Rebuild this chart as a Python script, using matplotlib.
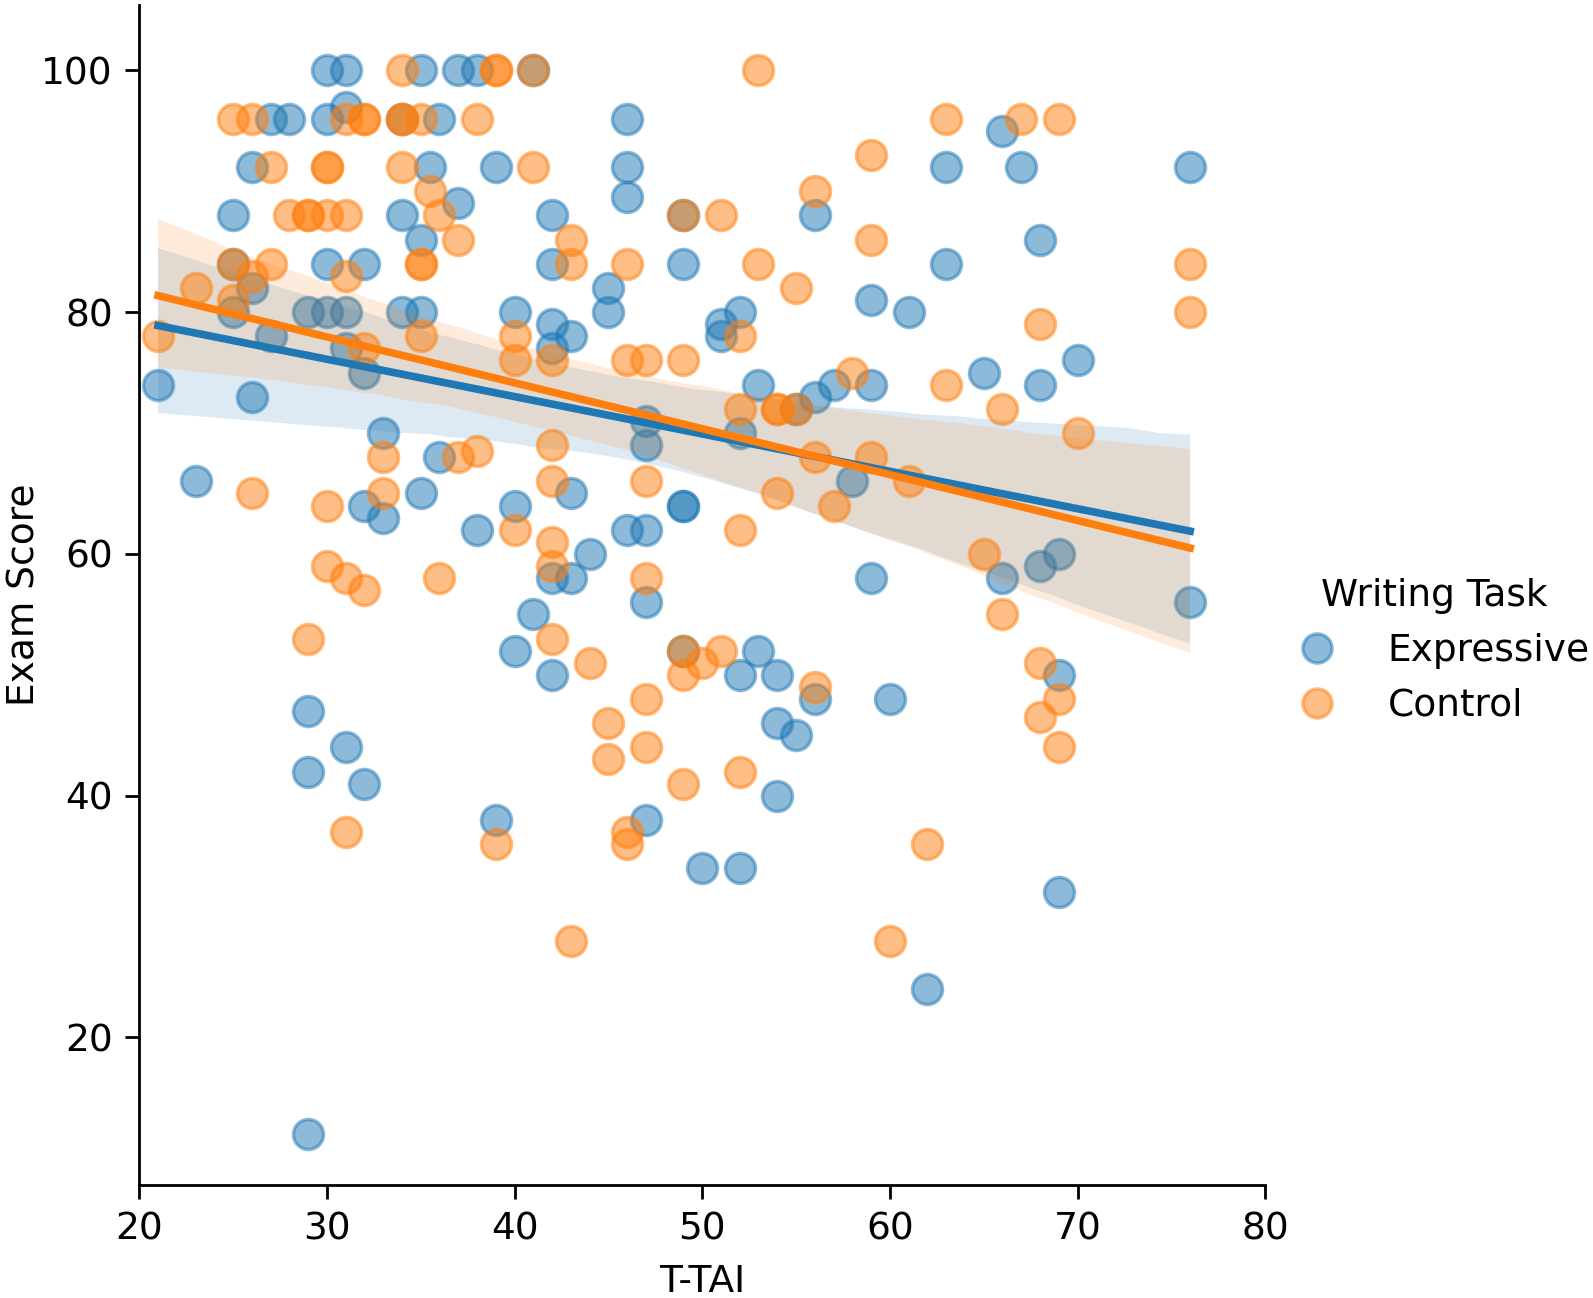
import matplotlib
matplotlib.use("Agg")
import matplotlib.pyplot as plt
import seaborn as sns
import numpy as np
from matplotlib.lines import Line2D

# ---- data ----
expr_x = [30, 31, 35, 37, 38, 41,
          31,
          27, 28, 30, 34, 36, 46,
          66,
          26, 35.5, 39, 46, 63, 67, 76,
          46, 37,
          25, 34, 42, 49, 56,
          35, 68,
          25, 30, 32, 42, 49, 63,
          26, 45, 59,
          25, 29, 30, 31, 34, 35, 40, 45, 52, 61,
          42, 51,
          27, 43, 51,
          31, 42,
          70,
          32, 65,
          21, 53, 57, 59, 68,
          26, 56,
          55,
          47,
          33, 52,
          47, 36,
          23, 58,
          35, 43,
          32, 40, 49, 49,
          33,
          38, 46, 47,
          44, 69, 68,
          42, 43, 59, 66,
          47, 76, 41,
          40, 49, 53,
          42, 52, 54, 69,
          56, 60, 29, 54, 55, 31, 29, 32, 54,
          39, 47, 50, 52, 69, 62, 29]
expr_y = [100, 100, 100, 100, 100, 100,
          97,
          96, 96, 96, 96, 96, 96,
          95,
          92, 92, 92, 92, 92, 92, 92,
          89.5, 89,
          88, 88, 88, 88, 88,
          86, 86,
          84, 84, 84, 84, 84, 84,
          82, 82, 81,
          80, 80, 80, 80, 80, 80, 80, 80, 80, 80,
          79, 79,
          78, 78, 78,
          77, 77,
          76,
          75, 75,
          74, 74, 74, 74, 74,
          73, 73,
          72,
          71,
          70, 70,
          69, 68,
          66, 66,
          65, 65,
          64, 64, 64, 64,
          63,
          62, 62, 62,
          60, 60, 59,
          58, 58, 58, 58,
          56, 56, 55,
          52, 52, 52,
          50, 50, 50, 50,
          48, 48, 47, 46, 45, 44, 42, 41, 40,
          38, 38, 34, 34, 32, 24, 12]

ctrl_x = [34, 39, 39, 41, 53,
          25, 26, 31, 32, 32, 34, 34, 35, 38, 63, 67, 69,
          59,
          27, 30, 30, 34, 41,
          35.5, 56,
          28, 29, 29, 30, 31, 36, 49, 51,
          37, 43, 59,
          25, 27, 35, 35, 43, 46, 53, 76,
          26, 31, 23, 55, 25, 76, 68,
          21, 35, 40, 52,
          32,
          40, 42, 46, 47, 49,
          58, 63,
          52, 54, 54, 55, 66,
          70, 42, 38,
          33, 37, 56, 59,
          42, 47, 61,
          26, 33, 54,
          30, 57,
          40, 52, 42, 65,
          30, 42,
          31, 36, 47, 32, 66,
          29, 42, 49, 51,
          44, 50, 68, 49, 56,
          47, 69, 68, 45, 47, 69, 45, 52, 49,
          31, 46, 39, 46, 62, 43, 60]
ctrl_y = [100, 100, 100, 100, 100,
          96, 96, 96, 96, 96, 96, 96, 96, 96, 96, 96, 96,
          93,
          92, 92, 92, 92, 92,
          90, 90,
          88, 88, 88, 88, 88, 88, 88, 88,
          86, 86, 86,
          84, 84, 84, 84, 84, 84, 84, 84,
          83, 83, 82, 82, 81, 80, 79,
          78, 78, 78, 78,
          77,
          76, 76, 76, 76, 76,
          75, 74,
          72, 72, 72, 72, 72,
          70, 69, 68.5,
          68, 68, 68, 68,
          66, 66, 66,
          65, 65, 65,
          64, 64,
          62, 62, 61, 60,
          59, 59,
          58, 58, 58, 57, 55,
          53, 53, 52, 52,
          51, 51, 51, 50, 49,
          48, 48, 46.5, 46, 44, 44, 43, 42, 41,
          37, 37, 36, 36, 36, 28, 28]

groups = ["Expressive", "Control"]
colors = ["#1f77b4", "#ff7f0e"]

FS = 27

fig = plt.figure(figsize=(15.93, 12.98), dpi=100)
ax = fig.add_axes([0.0874, 0.0871, 0.7068, 0.909])

for (gx, gy), c in zip([(expr_x, expr_y), (ctrl_x, ctrl_y)], colors):
    sns.regplot(x=np.array(gx, float), y=np.array(gy, float), ax=ax, color=c,
                truncate=True, ci=95, seed=3,
                scatter_kws=dict(s=470, alpha=0.5, linewidths=2.5, edgecolors=c),
                line_kws=dict(lw=5.5))

ax.set_xlim(20, 80)
ax.set_ylim(7.8, 105.4)
ax.set_xticks([20, 30, 40, 50, 60, 70, 80])
ax.set_yticks([20, 40, 60, 80, 100])
ax.set_xlabel("T-TAI", fontsize=FS, labelpad=12)
ax.set_ylabel("Exam Score", fontsize=FS)
ax.yaxis.set_label_coords(-0.086, 0.5)
ax.tick_params(labelsize=FS, length=10, width=2, pad=9)
for s in ["top", "right"]:
    ax.spines[s].set_visible(False)
for s in ["left", "bottom"]:
    ax.spines[s].set_linewidth(2)

handles = [Line2D([], [], ls="", marker="o", markersize=21, markerfacecolor=c,
                  markeredgecolor=c, markeredgewidth=2.5, alpha=0.5) for c in colors]
fig.legend(handles, groups, title="Writing Task", loc="center left",
           bbox_to_anchor=(0.7935, 0.4985), frameon=False, fontsize=FS,
           title_fontsize=FS, handletextpad=0.9, labelspacing=0.5,
           borderaxespad=0)

fig.savefig("out.png", dpi=100)
